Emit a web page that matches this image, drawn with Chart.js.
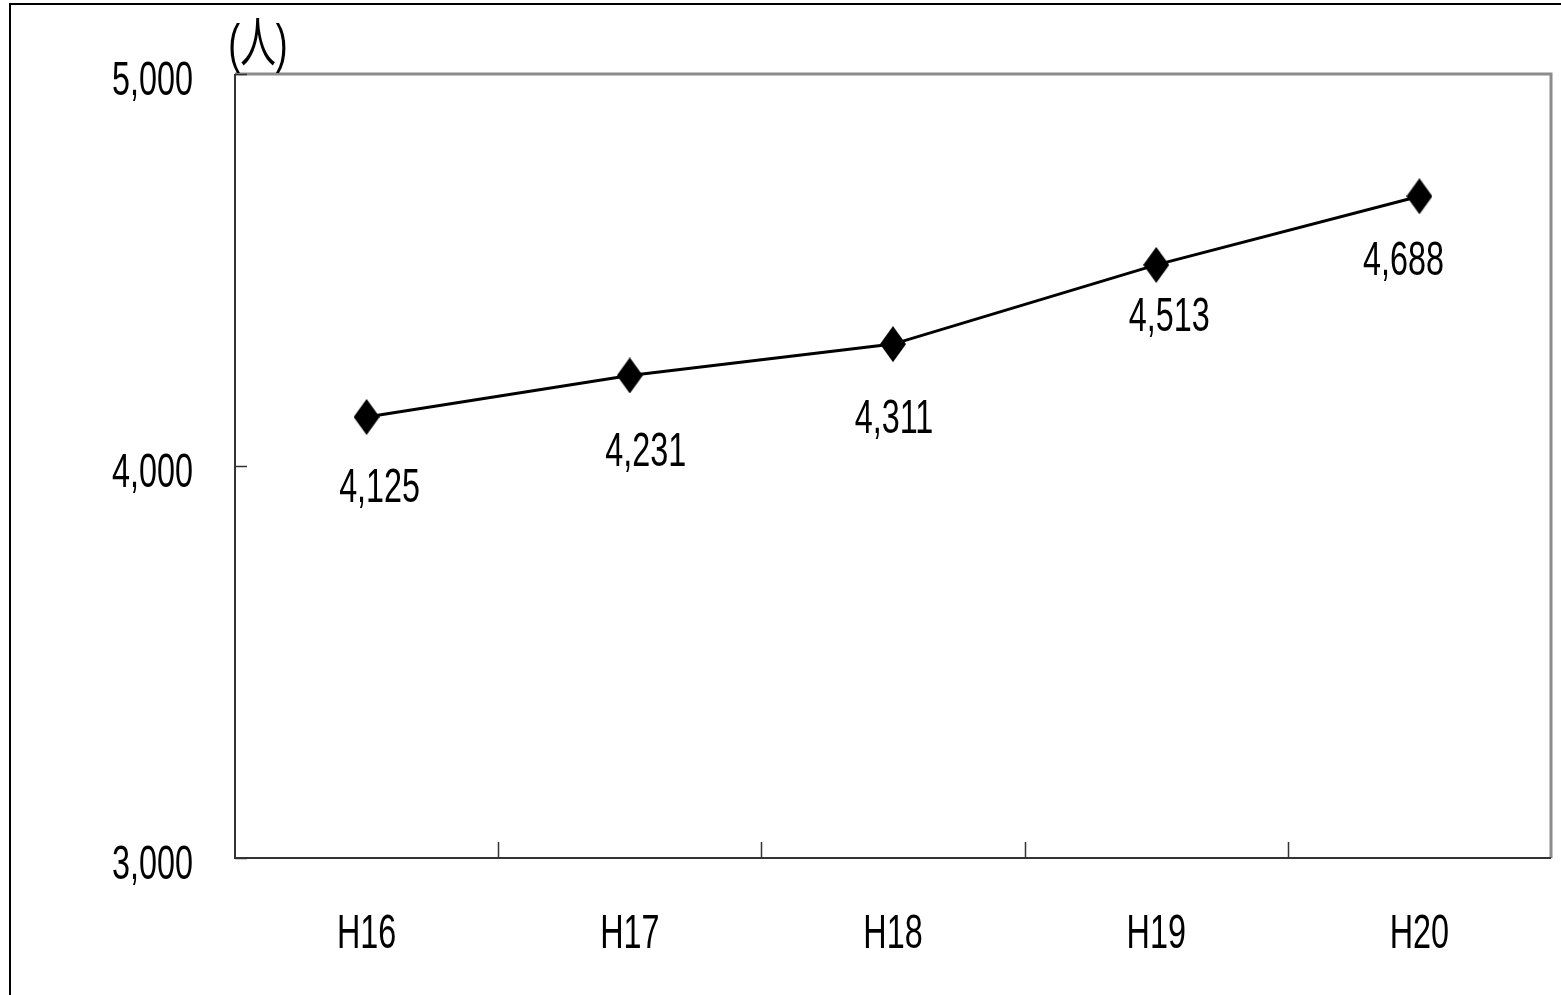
<!DOCTYPE html>
<html>
<head>
<meta charset="utf-8">
<script src="https://cdn.jsdelivr.net/npm/chart.js@4/dist/chart.umd.min.js"></script>
<style>
  body { margin: 0; background: #fff; overflow: hidden; }
  canvas { display: block; }
</style>
</head>
<body>
<canvas id="chart" width="1561" height="995"></canvas>
<script>
// 年度別人数
var years = ['H16', 'H17', 'H18', 'H19', 'H20'];
var persons = [4125, 4231, 4311, 4513, 4688];
var yTicks = [3000, 4000, 5000];
var unitLabel = '(人)';

// label offset from each point (dx, dy to baseline)
var labelShift = [[13, 85], [16, 91], [1, 89], [13, 66], [-16, 79]];

var FONT = '"Liberation Sans", Arial, "Noto Sans CJK JP", sans-serif';
var SQUEEZE = 0.66;

function fmt(v) {
    return v.toLocaleString('en-US');
}

// narrow, tall lettering
function narrowText(ctx, text, x, y, align, size) {
    ctx.save();
    ctx.font = (size || 49) + 'px ' + FONT;
    ctx.fillStyle = '#000';
    ctx.textBaseline = 'alphabetic';
    ctx.textAlign = align;
    ctx.translate(x, y);
    ctx.scale(SQUEEZE, 1);
    ctx.fillText(text, 0, 0);
    ctx.restore();
}

// diamond marker, a bit taller than wide
var diamond = document.createElement('canvas');
diamond.width = 26;
diamond.height = 36;
(function () {
    var c = diamond.getContext('2d');
    c.fillStyle = '#000';
    c.beginPath();
    c.moveTo(13, 0);
    c.lineTo(26, 18);
    c.lineTo(13, 36);
    c.lineTo(0, 18);
    c.closePath();
    c.fill();
})();

var frame = {
    id: 'frame',
    beforeDatasetsDraw: function (chart) {
        var ctx = chart.ctx;
        var a = chart.chartArea;
        var x = chart.scales.x, y = chart.scales.y;
        ctx.save();
        // outer box
        ctx.strokeStyle = '#000';
        ctx.lineWidth = 2;
        ctx.beginPath();
        ctx.moveTo(10, 995);
        ctx.lineTo(10, 4);
        ctx.lineTo(1561, 4);
        ctx.stroke();
        // plot box
        ctx.strokeStyle = '#8c8c8c';
        ctx.lineWidth = 3;
        ctx.beginPath();
        ctx.moveTo(a.left, a.top);
        ctx.lineTo(a.right, a.top);
        ctx.lineTo(a.right, a.bottom);
        ctx.stroke();
        ctx.strokeStyle = '#333';
        ctx.lineWidth = 2;
        ctx.beginPath();
        ctx.moveTo(a.left, a.top);
        ctx.lineTo(a.left, a.bottom);
        ctx.lineTo(a.right, a.bottom);
        ctx.stroke();
        // tick marks inside the plot
        ctx.lineWidth = 1.5;
        ctx.beginPath();
        y.ticks.forEach(function (t) {
            var py = Math.round(y.getPixelForValue(t.value)) + 0.5;
            ctx.moveTo(a.left, py);
            ctx.lineTo(a.left + 12, py);
        });
        for (var i = 1; i < years.length; i++) {
            var px = Math.round((x.getPixelForValue(i - 1) + x.getPixelForValue(i)) / 2) + 0.5;
            ctx.moveTo(px, a.bottom);
            ctx.lineTo(px, a.bottom - 16);
        }
        ctx.stroke();
        ctx.restore();

        // axis text
        y.ticks.forEach(function (t) {
            narrowText(ctx, fmt(t.value), 193, y.getPixelForValue(t.value) + 21, 'right');
        });
        years.forEach(function (yr, i) {
            narrowText(ctx, yr, x.getPixelForValue(i), a.bottom + 90, 'center');
        });
        narrowText(ctx, unitLabel, a.left + 23, a.top - 12, 'center', 54);
    },
    afterDatasetsDraw: function (chart) {
        var meta = chart.getDatasetMeta(0);
        meta.data.forEach(function (pt, i) {
            var s = labelShift[i];
            narrowText(chart.ctx, fmt(persons[i]), pt.x + s[0], pt.y + s[1], 'center');
        });
    }
};

new Chart(document.getElementById('chart'), {
    type: 'line',
    data: {
        labels: years,
        datasets: [{
            data: persons,
            borderColor: '#000',
            borderWidth: 3,
            tension: 0,
            pointStyle: diamond,
            pointRadius: 13
        }]
    },
    options: {
        responsive: false,
        animation: false,
        events: [],
        layout: { autoPadding: false, padding: { left: 0, right: 10, top: 74, bottom: 0 } },
        plugins: { legend: { display: false }, tooltip: { enabled: false } },
        scales: {
            x: {
                offset: true,
                grid: { display: false },
                border: { display: false },
                ticks: { display: false },
                afterFit: function (s) { s.height = 137; }
            },
            y: {
                min: 3000,
                max: 5000,
                afterBuildTicks: function (s) {
                    s.ticks = yTicks.map(function (v) { return { value: v }; });
                },
                grid: { display: false },
                border: { display: false },
                ticks: { display: false },
                afterFit: function (s) { s.width = 235; }
            }
        }
    },
    plugins: [frame]
});
</script>
</body>
</html>
